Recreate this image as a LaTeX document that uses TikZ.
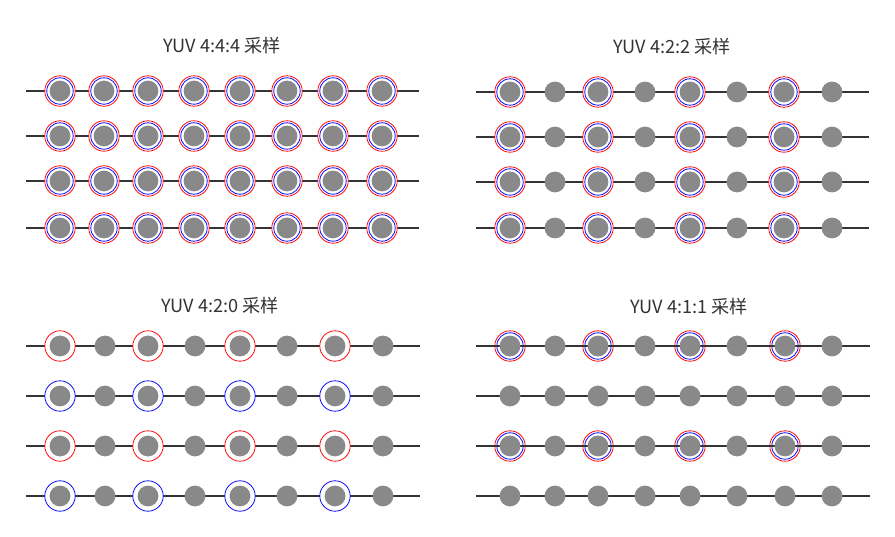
\documentclass[tikz,border=0pt]{standalone}
\usepackage{fontspec}
\newfontfamily\cjk{Noto Sans CJK SC}
\definecolor{lumagray}{HTML}{898989}
\definecolor{axisgray}{HTML}{333333}
\definecolor{titlegray}{HTML}{333333}
\begin{document}
\begin{tikzpicture}[x=0.025cm, y=-0.025cm,
    luma/.style={circle, fill=lumagray, minimum size=0.52cm, inner sep=0pt},
    ring v/.style={circle, draw=red, fill=white, line width=0.55pt, minimum size=0.76cm, inner sep=0pt},
    ring u/.style={circle, draw=blue, line width=0.55pt, minimum size=0.66cm, inner sep=0pt},
    axis/.style={draw=axisgray, line width=1.4pt},
    title/.style={font=\cjk\fontsize{12.9}{15}\selectfont, text=titlegray}
]
    \useasboundingbox[fill=white] (0,0) rectangle (895,537);

    % titles
    \node[title] (t444) at (222,46) {YUV 4:4:4 采样};
    \node[title] (t422) at (672,47) {YUV 4:2:2 采样};
    \node[title] (t420) at (220,306) {YUV 4:2:0 采样};
    \node[title] (t411) at (689,307) {YUV 4:1:1 采样};

    % 4:4:4 -- chroma at every sample
    \foreach \r/\y in {1/91,2/136,3/181,4/228} {
        \coordinate (a-\r-w) at (26,\y);
        \coordinate (a-\r-e) at (419,\y);
        \draw[axis] (a-\r-w) -- (a-\r-e);
        \foreach \c/\x in {1/60,2/104,3/148,4/194,5/240,6/287,7/333,8/382} {
            \node[ring v] (a-\r-\c-v) at (\x,\y) {};
            \node[ring u] (a-\r-\c-u) at (\x,\y) {};
            \node[luma] (a-\r-\c) at (\x,\y) {};
        }
    }

    % 4:2:2 -- chroma at every other sample
    \foreach \r/\y in {1/92,2/137,3/182,4/228} {
        \coordinate (b-\r-w) at (476,\y);
        \coordinate (b-\r-e) at (869,\y);
        \draw[axis] (b-\r-w) -- (b-\r-e);
        \foreach \c/\x in {1/510,3/598,5/690,7/784} {
            \node[ring v] (b-\r-\c-v) at (\x,\y) {};
            \node[ring u] (b-\r-\c-u) at (\x,\y) {};
        }
        \foreach \c/\x in {1/510,2/555,3/598,4/645,5/690,6/737,7/784,8/832}
            \node[luma] (b-\r-\c) at (\x,\y) {};
    }

    % 4:2:0 -- V on odd rows, U on even rows
    \foreach \r/\y/\ring in {1/346/ring v,2/396/ring u,3/446/ring v,4/496/ring u} {
        \coordinate (c-\r-w) at (26,\y);
        \coordinate (c-\r-e) at (420,\y);
        \draw[axis] (c-\r-w) -- (c-\r-e);
        \foreach \c/\x in {1/60,3/148,5/240,7/335}
            \node[\ring, fill=white, minimum size=0.76cm] (c-\r-\c-k) at (\x,\y) {};
        \foreach \c/\x in {1/60,2/105,3/148,4/195,5/240,6/287,7/335,8/383}
            \node[luma] (c-\r-\c) at (\x,\y) {};
    }

    % 4:1:1 -- chroma rows
    \foreach \r/\y in {1/346,3/446} {
        \foreach \c/\x in {1/510,3/598,5/690,7/785} {
            \node[ring v] (d-\r-\c-v) at (\x,\y) {};
            \node[ring u] (d-\r-\c-u) at (\x,\y) {};
        }
    }
    \foreach \r/\y in {1/346,2/396,3/446,4/496} {
        \coordinate (d-\r-w) at (476,\y);
        \coordinate (d-\r-e) at (870,\y);
        \draw[axis] (d-\r-w) -- (d-\r-e);
        \foreach \c/\x in {1/510,2/555,3/598,4/645,5/690,6/737,7/785,8/832}
            \node[luma] (d-\r-\c) at (\x,\y) {};
    }
\end{tikzpicture}
\end{document}
